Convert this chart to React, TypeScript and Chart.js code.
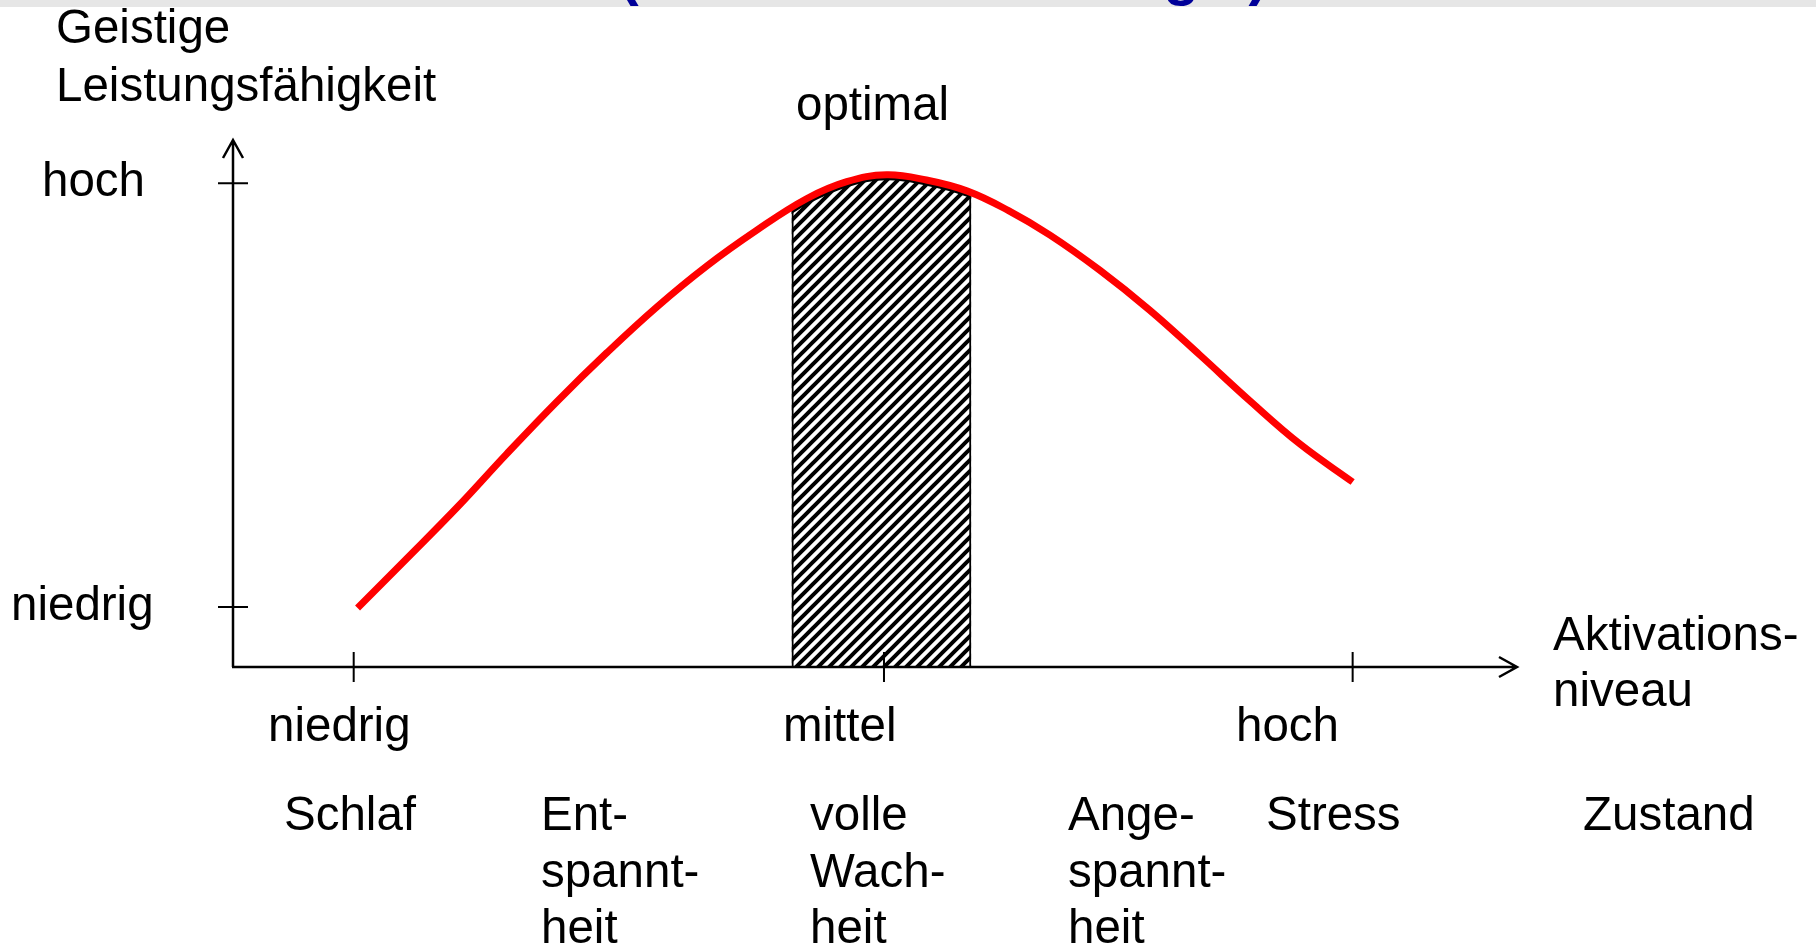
import React, { useEffect, useRef } from "react";
import { Chart, registerables } from "chart.js";

Chart.register(...registerables);

// ---- data (arbitrary units, 0..100 on both axes) ----
const curveX = [9.7, 13.5, 17.5, 21.3, 25.2, 29.1, 33.0, 36.9, 40.8, 44.7, 47.8, 50.9, 54.0, 57.2, 60.4, 63.6, 67.5, 71.4, 75.3, 79.2, 83.1, 87.2];
const curveY = [11.2, 20.5, 30.4, 40.4, 50.3, 59.6, 68.3, 76.1, 82.9, 88.9, 92.1, 93.4, 92.4, 90.3, 86.6, 82.0, 75.3, 67.7, 59.2, 50.5, 42.3, 35.1];
const optimalBand = [43.5, 57.5];
const xTickValues = [9.4, 50.7, 87.2];
const xTickLabels = ["niedrig", "mittel", "hoch"];
const yTickValues = [11.4, 91.8];
const yTickLabels = ["niedrig", "hoch"];
const stateLabels = [["Schlaf"], ["Ent-", "spannt-", "heit"], ["volle", "Wach-", "heit"], ["Ange-", "spannt-", "heit"], ["Stress"], ["Zustand"]];
const yAxisTitle = ["Geistige", "Leistungsfähigkeit"];
const xAxisTitle = ["Aktivations-", "niveau"];
const peakLabel = "optimal";
const titleText = "(Yerkes-Dodson-Regel)";

// ---- style constants ----
const FONT = "47.5px 'Liberation Sans', Arial, sans-serif";
const yLabelLeft = [11, 42];
const xLabelLeft = [268, 783, 1236];
const stateLeft = [284, 541, 810, 1068, 1266, 1583];

function makePattern(ctx: CanvasRenderingContext2D) {
  const s = 11;
  const c = document.createElement("canvas");
  c.width = s;
  c.height = s;
  const t = c.getContext("2d")!;
  t.fillStyle = "#fff";
  t.fillRect(0, 0, s, s);
  t.strokeStyle = "#000";
  t.lineWidth = 4;
  t.beginPath();
  t.moveTo(-3, s + 3);
  t.lineTo(s + 3, -3);
  t.moveTo(-3, 3);
  t.lineTo(3, -3);
  t.moveTo(s - 3, s + 3);
  t.lineTo(s + 3, s - 3);
  t.stroke();
  return ctx.createPattern(c, "repeat");
}

const diagramPlugin = {
  id: "diagram",
  beforeDatasetsDraw(chart: any) {
    const { ctx, chartArea, scales } = chart;
    const xs = scales.x;
    const ys = scales.y;
    const meta = chart.getDatasetMeta(0);
    const line = meta.dataset;
    const pts = meta.data;
    const base = ys.getPixelForValue(0);
    const x0 = xs.getPixelForValue(0);
    const left = xs.getPixelForValue(optimalBand[0]);
    const right = xs.getPixelForValue(optimalBand[1]);
    const top = chartArea.top - 40;

    // hatched optimal band, clipped under the curve
    ctx.save();
    ctx.beginPath();
    ctx.rect(left, top, right - left, base - top);
    ctx.clip();
    ctx.beginPath();
    line.path(ctx);
    ctx.lineTo(pts[pts.length - 1].x, base);
    ctx.lineTo(pts[0].x, base);
    ctx.closePath();
    ctx.clip();
    ctx.fillStyle = makePattern(ctx);
    ctx.fillRect(left, top, right - left, base - top);
    ctx.strokeStyle = "#000";
    ctx.lineWidth = 2;
    ctx.beginPath();
    ctx.moveTo(left + 1, base);
    ctx.lineTo(left + 1, top);
    ctx.moveTo(right - 1, base);
    ctx.lineTo(right - 1, top);
    ctx.stroke();
    ctx.lineWidth = 11;
    ctx.beginPath();
    line.path(ctx);
    ctx.stroke();
    ctx.restore();

    // axes with arrows
    const yTop = ys.getPixelForValue(100);
    const xEnd = xs.getPixelForValue(100);
    ctx.save();
    ctx.strokeStyle = "#000";
    ctx.lineWidth = 2.5;
    ctx.lineCap = "butt";
    ctx.beginPath();
    ctx.moveTo(x0, base);
    ctx.lineTo(x0, yTop);
    ctx.moveTo(x0 - 10, yTop + 18);
    ctx.lineTo(x0, yTop);
    ctx.lineTo(x0 + 10, yTop + 18);
    ctx.moveTo(x0 - 1, base);
    ctx.lineTo(xEnd, base);
    ctx.moveTo(xEnd - 18, base - 10);
    ctx.lineTo(xEnd, base);
    ctx.lineTo(xEnd - 18, base + 10);
    ctx.stroke();
    ctx.lineWidth = 2;
    ctx.beginPath();
    yTickValues.forEach((v) => {
      const py = ys.getPixelForValue(v);
      ctx.moveTo(x0 - 15, py);
      ctx.lineTo(x0 + 15, py);
    });
    xTickValues.forEach((v) => {
      const px = xs.getPixelForValue(v);
      ctx.moveTo(px, base - 15);
      ctx.lineTo(px, base + 15);
    });
    ctx.stroke();

    // texts
    ctx.fillStyle = "#000";
    ctx.font = FONT;
    ctx.textAlign = "left";
    ctx.textBaseline = "alphabetic";
    yTickValues.forEach((v, i) => {
      ctx.fillText(yTickLabels[i], yLabelLeft[i], ys.getPixelForValue(v) + 13);
    });
    xTickValues.forEach((v, i) => {
      ctx.fillText(xTickLabels[i], xLabelLeft[i], base + 74);
    });
    stateLabels.forEach((lines, i) => {
      lines.forEach((t, j) => ctx.fillText(t, stateLeft[i], base + 163 + j * 56.5));
    });
    yAxisTitle.forEach((t, j) => ctx.fillText(t, 56, 43 + j * 58));
    xAxisTitle.forEach((t, j) => ctx.fillText(t, xEnd + 36, base - 17 + j * 56));
    ctx.fillText(peakLabel, 796, 120);
    ctx.restore();
  },
};

export default function App() {
  const ref = useRef<HTMLCanvasElement>(null);
  useEffect(() => {
    if (!ref.current) return;
    const chart = new Chart(ref.current, {
      type: "line",
      data: {
        datasets: [
          {
            data: curveX.map((x, i) => ({ x, y: curveY[i] })),
            borderColor: "#ff0000",
            borderWidth: 7,
            pointRadius: 0,
            tension: 0.4,
            fill: false,
            borderCapStyle: "butt",
          },
        ],
      },
      options: {
        animation: false,
        responsive: false,
        devicePixelRatio: 1,
        layout: { padding: { left: 233, top: 140, right: 299, bottom: 280 } },
        scales: {
          x: { type: "linear", min: 0, max: 100, display: false },
          y: { type: "linear", min: 0, max: 100, display: false },
        },
        plugins: { legend: { display: false }, tooltip: { enabled: false } },
      },
      plugins: [diagramPlugin],
    } as any);
    return () => chart.destroy();
  }, []);

  return (
    <div style={{ position: "absolute", left: 0, top: 0, width: 1816, height: 947, overflow: "hidden", background: "#fff" }}>
      <div style={{ position: "absolute", left: 0, top: 0, width: 1816, height: 7, background: "#e6e6e6" }} />
      <div
        style={{
          position: "absolute",
          left: 619,
          top: -60,
          height: 60,
          lineHeight: "60px",
          whiteSpace: "nowrap",
          font: "bold 59px 'Liberation Sans', Arial, sans-serif",
          color: "#000099",
        }}
      >
        {titleText}
      </div>
      <canvas ref={ref} width={1816} height={947} style={{ position: "absolute", left: 0, top: 0, width: 1816, height: 947 }} />
    </div>
  );
}
